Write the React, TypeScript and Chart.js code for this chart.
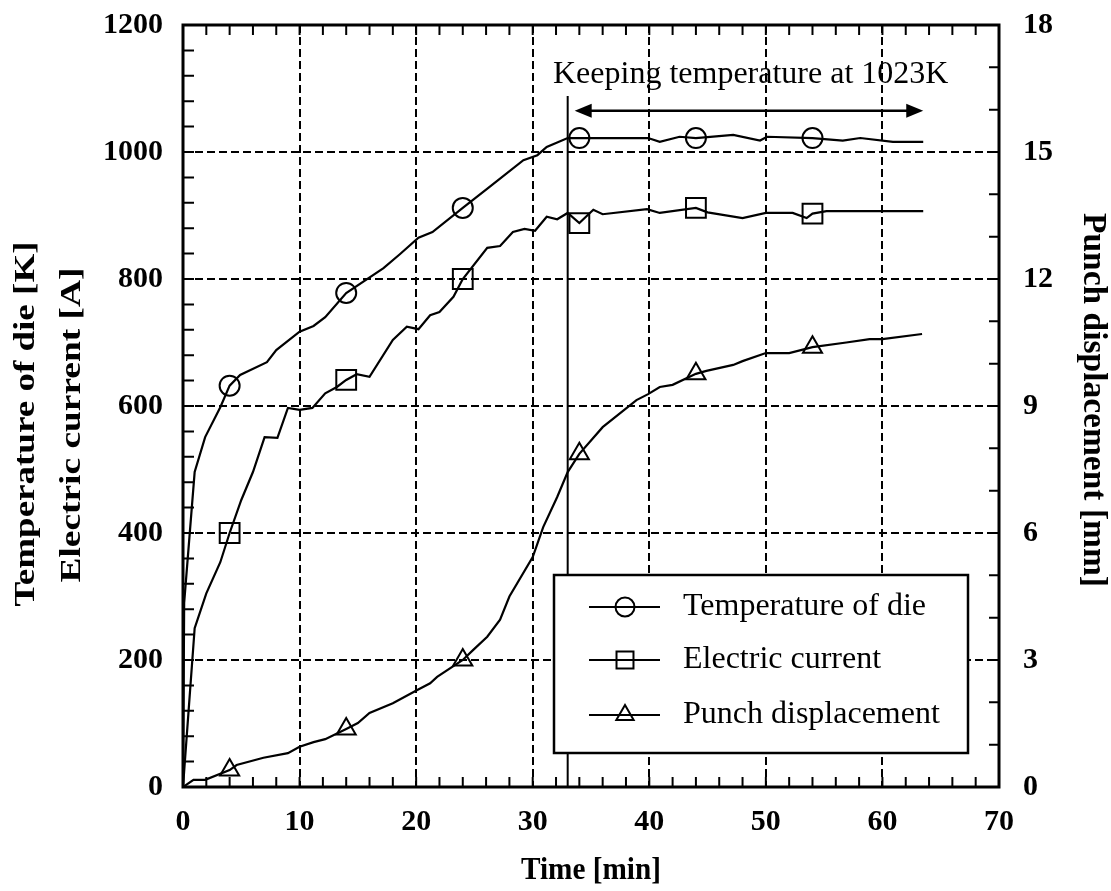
import React, { useEffect, useRef } from 'react';
import { Chart, registerables } from 'chart.js';

Chart.register(...registerables);

const FONT = "'Liberation Serif', 'Times New Roman', Times, serif";

// Die temperature [K] against time [min]
const tempTime = [0, 0.1, 1.0, 1.9, 3.2, 4, 4.9, 7.2, 8.0, 10, 11.2, 12.2, 14, 17.2, 18.6, 20.2, 21.4, 24, 26.3, 29.2, 30.4, 31.2, 33, 34, 39.9, 40.9, 42.6, 44, 47.2, 49.5, 50.1, 54, 56.6, 58.1, 60.9, 63.5];
const tempValue = [0, 290, 496, 551, 598, 632, 649, 669, 688, 717, 726, 740, 778, 817, 839, 865, 874, 912, 945, 987, 995, 1008, 1022, 1022, 1022, 1016, 1024, 1022, 1027, 1018, 1024, 1022, 1018, 1022, 1016, 1016];

// Electric current [A] against time [min]
const currentTime = [0, 1.0, 2.0, 3.2, 4, 5.0, 6.0, 7.0, 8.1, 9.0, 10.0, 11.1, 12.2, 13.2, 14, 14.9, 16.0, 18.0, 19.2, 20.2, 21.2, 22.0, 23.2, 24, 26.1, 27.2, 28.3, 29.3, 30.2, 31.2, 32.1, 33, 34, 35.2, 36, 39.8, 40.9, 44, 45, 48, 50, 52.3, 53.5, 54, 55.2, 63.5];
const currentValue = [0, 250, 305, 354, 400, 452, 496, 551, 550, 597, 594, 597, 620, 630, 641, 650, 646, 704, 725, 721, 743, 748, 772, 800, 849, 852, 874, 879, 876, 898, 894, 904, 888, 909, 902, 910, 904, 912, 905, 896, 904, 904, 896, 903, 907, 907];

// Punch displacement [mm] against time [min]
const punchTime = [0, 0.9, 1.9, 4, 4.6, 6.9, 9.0, 10, 11.2, 12.2, 14, 15.0, 16.0, 18.0, 20.1, 21.2, 21.8, 24, 24.9, 26.1, 27.2, 28.0, 30.0, 30.9, 32.1, 33.0, 34, 36, 38.9, 39.9, 40.9, 42, 44, 44.9, 47.2, 48.0, 50, 52, 54, 56.9, 58.9, 60, 63.4];
const punchValue = [0, 0.17, 0.17, 0.4, 0.52, 0.69, 0.8, 0.95, 1.06, 1.13, 1.37, 1.51, 1.75, 1.98, 2.29, 2.45, 2.6, 3.0, 3.24, 3.55, 3.95, 4.5, 5.43, 6.14, 6.85, 7.44, 7.87, 8.5, 9.14, 9.28, 9.45, 9.5, 9.76, 9.83, 9.97, 10.06, 10.25, 10.25, 10.39, 10.5, 10.58, 10.58, 10.7];

// Times at which symbols are drawn on the curves
const markerTimes = [4, 14, 24, 34, 44, 54];

const seriesLabels = ['Temperature of die', 'Electric current', 'Punch displacement'];
const leftTitle = ['Temperature of die [K]', 'Electric current [A]'];
const rightTitle = 'Punch displacement [mm]';
const xTitle = 'Time [min]';

// Holding stage annotation (time in min, level in K)
const holdNote = 'Keeping temperature at 1023K';
const holdStart = 33;
const holdLineTop = 1088;
const holdArrowFrom = 33.6;
const holdArrowTo = 63.5;
const holdArrowLevel = 1065;
const holdNoteX = 48.7;
const holdNoteY = 1109;

const toPoints = (t: number[], v: number[]) => t.map((x, i) => ({ x, y: v[i] }));

const drawMarker = (ctx: CanvasRenderingContext2D, style: string, cx: number, cy: number, r: number) => {
  ctx.beginPath();
  if (style === 'circle') {
    ctx.arc(cx, cy, r, 0, Math.PI * 2);
  } else if (style === 'rect') {
    const h = r * Math.SQRT1_2;
    ctx.rect(cx - h, cy - h, 2 * h, 2 * h);
  } else {
    for (let k = 0; k < 3; k++) {
      const a = (k * 2 * Math.PI) / 3;
      const px = cx + Math.sin(a) * r;
      const py = cy - Math.cos(a) * r;
      if (k === 0) ctx.moveTo(px, py);
      else ctx.lineTo(px, py);
    }
    ctx.closePath();
  }
  ctx.stroke();
};

const drawFitted = (
  ctx: CanvasRenderingContext2D,
  text: string,
  cx: number,
  cy: number,
  angle: number,
  font: string,
  length: number
) => {
  ctx.save();
  ctx.translate(cx, cy);
  ctx.rotate(angle);
  ctx.font = font;
  const w = ctx.measureText(text).width;
  ctx.scale(length / w, 1);
  ctx.textAlign = 'center';
  ctx.textBaseline = 'alphabetic';
  ctx.fillText(text, 0, 0);
  ctx.restore();
};

const overlayPlugin = {
  id: 'overlay',
  afterDraw(chart: any) {
    const { ctx, chartArea: a, scales } = chart;
    const sx = scales.x;
    const sy = scales.y;
    const sy1 = scales.y1;
    ctx.save();
    ctx.strokeStyle = '#000';
    ctx.fillStyle = '#000';
    ctx.setLineDash([]);

    // start of the holding stage
    const hx = sx.getPixelForValue(holdStart);
    ctx.lineWidth = 2;
    ctx.beginPath();
    ctx.moveTo(hx, sy.getPixelForValue(0));
    ctx.lineTo(hx, sy.getPixelForValue(holdLineTop));
    ctx.stroke();

    // double-headed arrow over the holding stage
    const ay = sy.getPixelForValue(holdArrowLevel);
    const ax0 = sx.getPixelForValue(holdArrowFrom);
    const ax1 = sx.getPixelForValue(holdArrowTo);
    ctx.lineWidth = 2.5;
    ctx.beginPath();
    ctx.moveTo(ax0 + 10, ay);
    ctx.lineTo(ax1 - 10, ay);
    ctx.stroke();
    ctx.beginPath();
    ctx.moveTo(ax0, ay);
    ctx.lineTo(ax0 + 17, ay - 7);
    ctx.lineTo(ax0 + 17, ay + 7);
    ctx.closePath();
    ctx.fill();
    ctx.beginPath();
    ctx.moveTo(ax1, ay);
    ctx.lineTo(ax1 - 17, ay - 7);
    ctx.lineTo(ax1 - 17, ay + 7);
    ctx.closePath();
    ctx.fill();

    ctx.font = `32px ${FONT}`;
    ctx.textAlign = 'center';
    ctx.textBaseline = 'alphabetic';
    ctx.fillText(holdNote, sx.getPixelForValue(holdNoteX), sy.getPixelForValue(holdNoteY));

    // legend box
    const lx = 554, ly = 575, lw = 414, lh = 178;
    ctx.fillStyle = '#fff';
    ctx.fillRect(lx, ly, lw, lh);
    ctx.fillStyle = '#000';
    ctx.lineWidth = 2.5;
    ctx.strokeRect(lx, ly, lw, lh);
    const rows = [607, 660, 715];
    const legendRadius = [9.5, 12, 10];
    chart.data.datasets.forEach((ds: any, i: number) => {
      const ry = rows[i];
      ctx.lineWidth = 2.2;
      ctx.beginPath();
      ctx.moveTo(589, ry);
      ctx.lineTo(660, ry);
      ctx.stroke();
      ctx.lineWidth = 2;
      drawMarker(ctx, ds.pointStyle, 625, ry, legendRadius[i]);
      ctx.font = `32px ${FONT}`;
      ctx.textAlign = 'left';
      ctx.textBaseline = 'alphabetic';
      ctx.fillText(ds.label, 683, ry + 8);
    });

    // plot frame with inward ticks
    ctx.lineWidth = 3;
    ctx.strokeRect(a.left, a.top, a.right - a.left, a.bottom - a.top);
    ctx.lineWidth = 2;
    ctx.beginPath();
    for (let v = 0; v <= 70; v += 2) {
      const px = sx.getPixelForValue(v);
      ctx.moveTo(px, a.bottom);
      ctx.lineTo(px, a.bottom - 10);
      ctx.moveTo(px, a.top);
      ctx.lineTo(px, a.top + 10);
    }
    for (let v = 0; v <= 1200; v += 40) {
      const py = sy.getPixelForValue(v);
      ctx.moveTo(a.left, py);
      ctx.lineTo(a.left + 11, py);
    }
    for (let v = 0; v <= 18; v += 1) {
      const py = sy1.getPixelForValue(v);
      ctx.moveTo(a.right, py);
      ctx.lineTo(a.right - 10, py);
    }
    ctx.stroke();

    // axis titles
    const bold = `bold 30px ${FONT}`;
    drawFitted(ctx, leftTitle[0], 34, 424, -Math.PI / 2, bold, 365);
    drawFitted(ctx, leftTitle[1], 80, 425, -Math.PI / 2, bold, 315);
    drawFitted(ctx, rightTitle, 1084, 400, Math.PI / 2, `bold 34px ${FONT}`, 374);
    drawFitted(ctx, xTitle, 591, 879, 0, `bold 31px ${FONT}`, 140);

    ctx.restore();
  },
};

const markerRadius = (r: number) => (c: any) =>
  c.raw && markerTimes.includes(c.raw.x) ? r : 0;

const plainNumber = (v: any) => String(v);

export default function App() {
  const canvasRef = useRef<HTMLCanvasElement | null>(null);

  useEffect(() => {
    document.body.style.margin = '0';
    const canvas = canvasRef.current;
    if (!canvas) return;
    const tickFont = { family: FONT, size: 30, weight: 'bold' as const };
    const gridColor = (edgeA: number, edgeB: number) => (c: any) =>
      c.tick && (c.tick.value === edgeA || c.tick.value === edgeB) ? 'rgba(0,0,0,0)' : '#000';

    const common = {
      borderColor: '#000',
      borderWidth: 2.2,
      pointBorderColor: '#000',
      pointBackgroundColor: 'rgba(0,0,0,0)',
      pointBorderWidth: 2,
      pointHoverRadius: 0,
      tension: 0,
      fill: false,
    };

    const fixVertical = (width: number) => (s: any) => {
      s.width = width;
      s.paddingTop = 0;
      s.paddingBottom = 0;
    };

    const chart = new Chart(canvas, {
      type: 'line',
      data: {
        datasets: [
          {
            ...common,
            label: seriesLabels[0],
            data: toPoints(tempTime, tempValue),
            yAxisID: 'y',
            pointStyle: 'circle',
            pointRadius: markerRadius(10),
          },
          {
            ...common,
            label: seriesLabels[1],
            data: toPoints(currentTime, currentValue),
            yAxisID: 'y',
            pointStyle: 'rect',
            pointRadius: markerRadius(14),
          },
          {
            ...common,
            label: seriesLabels[2],
            data: toPoints(punchTime, punchValue),
            yAxisID: 'y1',
            pointStyle: 'triangle',
            pointRadius: markerRadius(11),
          },
        ],
      },
      options: {
        animation: false,
        responsive: false,
        devicePixelRatio: 1,
        events: [],
        layout: { autoPadding: false, padding: { top: 25, left: 0, right: 0, bottom: 0 } },
        plugins: { legend: { display: false }, tooltip: { enabled: false } },
        scales: {
          x: {
            type: 'linear',
            min: 0,
            max: 70,
            ticks: { stepSize: 10, font: tickFont, color: '#000', padding: 17, callback: plainNumber },
            grid: { color: gridColor(0, 70), lineWidth: 2, drawTicks: false },
            border: { display: false, dash: [8, 4] },
            afterFit: (s: any) => {
              s.height = 104;
              s.paddingLeft = 0;
              s.paddingRight = 0;
            },
          },
          y: {
            type: 'linear',
            position: 'left',
            min: 0,
            max: 1200,
            ticks: { stepSize: 200, font: tickFont, color: '#000', padding: 20, callback: plainNumber },
            grid: { color: gridColor(0, 1200), lineWidth: 2, drawTicks: false },
            border: { display: false, dash: [8, 4] },
            afterFit: fixVertical(183),
          },
          y1: {
            type: 'linear',
            position: 'right',
            min: 0,
            max: 18,
            ticks: { stepSize: 3, font: tickFont, color: '#000', padding: 24, callback: plainNumber },
            grid: { display: false, drawTicks: false },
            border: { display: false },
            afterFit: fixVertical(112),
          },
        },
      },
      plugins: [overlayPlugin],
    } as any);

    return () => chart.destroy();
  }, []);

  return (
    <div style={{ width: 1111, height: 891, background: '#fff' }}>
      <canvas ref={canvasRef} width={1111} height={891} style={{ display: 'block' }} />
    </div>
  );
}
